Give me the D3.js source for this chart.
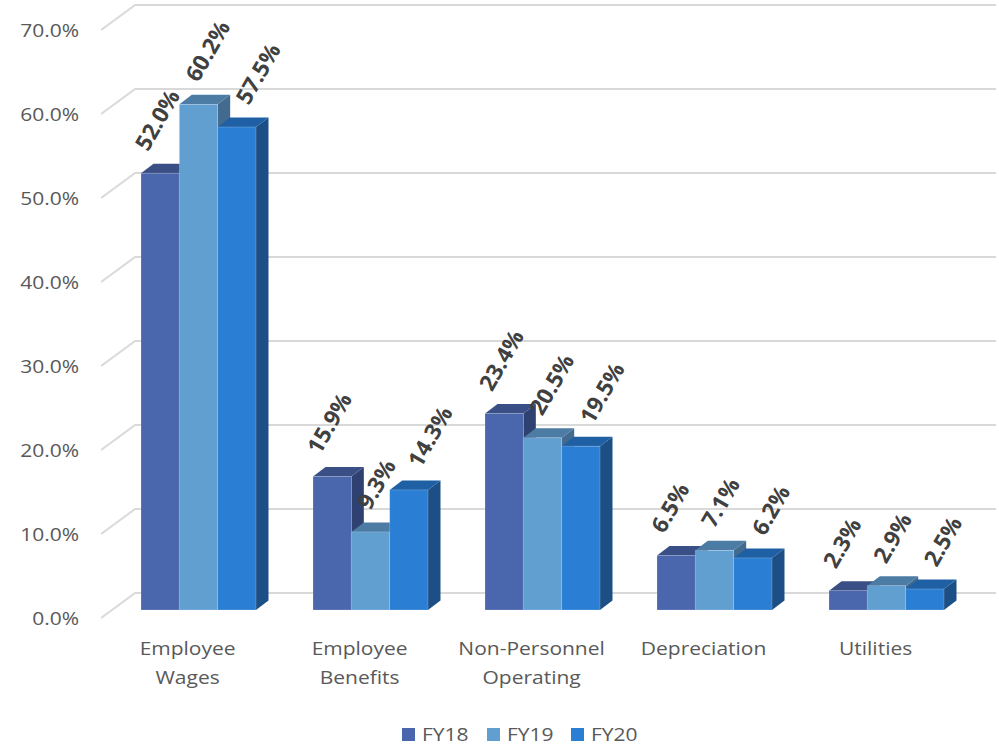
<!DOCTYPE html>
<html>
<head>
<meta charset="utf-8">
<script src="https://cdn.jsdelivr.net/npm/d3@7"></script>
<style>
  html, body { margin: 0; padding: 0; background: #fff; }
  svg { display: block; font-family: "Open Sans", "Noto Sans", sans-serif; }
</style>
</head>
<body>
<div id="chart"></div>
<script>
// chart values
const categories = [["Employee", "Wages"], ["Employee", "Benefits"], ["Non-Personnel", "Operating"], ["Depreciation"], ["Utilities"]];
const series = ["FY18", "FY19", "FY20"];
const fy18 = [52.0, 15.9, 23.4, 6.5, 2.3];
const fy19 = [60.2, 9.3, 20.5, 7.1, 2.9];
const fy20 = [57.5, 14.3, 19.5, 6.2, 2.5];
const yTicks = [0, 10, 20, 30, 40, 50, 60, 70];

const values = [fy18, fy19, fy20];
const catKeys = categories.map(c => c.join(" "));

// colours per series: front, top, side
const colors = [
  { front: "#4a66ac", top: "#3a4f86", side: "#2f4170" },
  { front: "#629fd1", top: "#4c7ba4", side: "#436a8f" },
  { front: "#2a7fd4", top: "#1f5fa3", side: "#1b4f86" }
];

const W = 999, H = 749;
const sx = 1.2; // the text in the original is drawn wide

const svg = d3.select("#chart")
  .append("svg")
  .attr("width", W)
  .attr("height", H);

// y scale on the plane of the bar fronts
const y = d3.scaleLinear()
  .domain([0, 70])
  .range([610, 22]);

// category bands on the bar-front plane
const x = d3.scaleBand()
  .domain(catKeys)
  .range([112.5, 972.5])
  .paddingInner(0.3314)
  .paddingOuter(0.1657);

const xs = d3.scaleBand()
  .domain(series)
  .range([0, x.bandwidth()]);

// 3D offsets
const front = { dx: -10.9, dy: 8 };   // bar plane -> front of floor
const back = { dx: 23.1, dy: -17 };   // bar plane -> back wall
const depth = { dx: 12.5, dy: -9.5 }; // bar depth

// gridlines (front diagonal + back wall line)
const grid = svg.append("g")
  .attr("fill", "none")
  .attr("stroke", "#d9d9d9")
  .attr("stroke-width", 2);

grid.selectAll("path")
  .data(yTicks)
  .join("path")
  .attr("d", d => {
    const yy = y(d);
    const x0 = 112 + front.dx;
    return `M${x0},${yy + front.dy}L${x0 + (back.dx - front.dx)},${yy + back.dy}L996,${yy + back.dy}`;
  });

// y axis labels
svg.append("g")
  .selectAll("text")
  .data(yTicks)
  .join("text")
  .attr("transform", d => `translate(79,${y(d) + front.dy + 6.5}) scale(${sx},1)`)
  .attr("text-anchor", "end")
  .attr("fill", "#595959")
  .style("font-size", "17.5px")
  .text(d => d.toFixed(1) + "%");

// bars, drawn left to right
const bars = [];
catKeys.forEach((c, ci) => {
  series.forEach((s, si) => {
    bars.push({ cat: c, ser: s, si: si, v: values[si][ci] });
  });
});

const barG = svg.append("g");
bars.forEach(b => {
  const x0 = x(b.cat) + xs(b.ser);
  const w = xs.bandwidth();
  const yt = y(b.v), yb = y(0);
  const col = colors[b.si];
  const g = barG.append("g");
  // side
  g.append("path")
    .attr("d", `M${x0 + w},${yt}L${x0 + w + depth.dx},${yt + depth.dy}L${x0 + w + depth.dx},${yb + depth.dy}L${x0 + w},${yb}Z`)
    .attr("fill", col.side);
  // top
  g.append("path")
    .attr("d", `M${x0},${yt}L${x0 + depth.dx},${yt + depth.dy}L${x0 + w + depth.dx},${yt + depth.dy}L${x0 + w},${yt}Z`)
    .attr("fill", col.top);
  // front
  g.append("rect")
    .attr("x", x0)
    .attr("y", yt)
    .attr("width", w)
    .attr("height", yb - yt)
    .attr("fill", col.front)
    .attr("stroke", "rgba(255,255,255,0.25)")
    .attr("stroke-width", 0.8);
});

// data labels, rotated
svg.append("g")
  .selectAll("text")
  .data(bars)
  .join("text")
  .attr("transform", d => {
    const lx = x(d.cat) + xs(d.ser) + 7 + d.si * 12;
    const ly = y(d.v) - 21;
    return `translate(${lx},${ly}) rotate(-60)`;
  })
  .attr("fill", "#404040")
  .style("font-size", "22.5px")
  .style("font-weight", "bold")
  .text(d => d.v.toFixed(1) + "%");

// category labels
const catG = svg.append("g")
  .selectAll("g")
  .data(categories)
  .join("g")
  .attr("transform", (d, i) => `translate(${x(catKeys[i]) + x.bandwidth() / 2 + front.dx},655) scale(${sx},1)`);

catG.selectAll("text")
  .data(d => d)
  .join("text")
  .attr("y", (d, i) => i * 29)
  .attr("text-anchor", "middle")
  .attr("fill", "#595959")
  .style("font-size", "17.5px")
  .text(d => d);

// legend
const legendX = [402, 487, 571];
const legend = svg.append("g")
  .selectAll("g")
  .data(series)
  .join("g")
  .attr("transform", (d, i) => `translate(${legendX[i]},728)`);

legend.append("rect")
  .attr("width", 13)
  .attr("height", 13)
  .attr("fill", (d, i) => colors[i].front);

legend.append("text")
  .attr("transform", `translate(20,13) scale(${sx},1)`)
  .attr("fill", "#595959")
  .style("font-size", "17.5px")
  .text(d => d);
</script>
</body>
</html>
